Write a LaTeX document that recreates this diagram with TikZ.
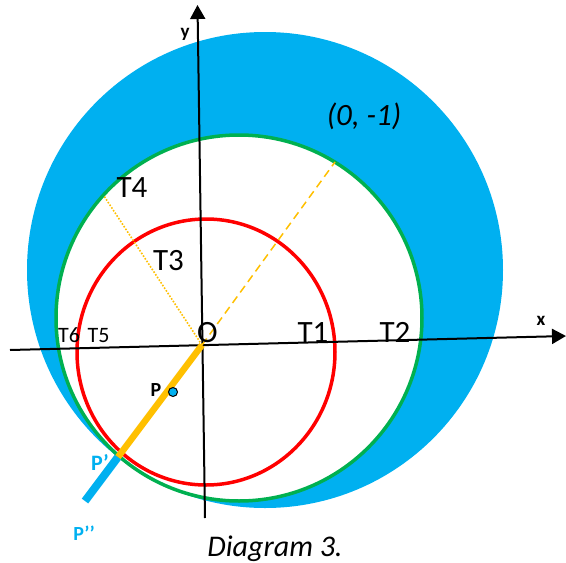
\documentclass[tikz,border=0pt]{standalone}
\usepackage{fontspec}
\setmainfont{Carlito}
\usetikzlibrary{arrows.meta}
\definecolor{skyb}{HTML}{00B0F0}
\definecolor{grn}{HTML}{00B050}
\definecolor{gold}{HTML}{FFC000}
\definecolor{rd}{HTML}{FF0000}
\tikzset{
  lbl/.style={inner sep=0pt, anchor=base, font=\fontsize{31}{34}\selectfont},
  smalllbl/.style={inner sep=0pt, anchor=base, font=\fontsize{22}{24}\selectfont},
  axlbl/.style={inner sep=0pt, anchor=base, font=\fontsize{19}{21}\selectfont\bfseries},
  plbl/.style={inner sep=0pt, anchor=base, font=\fontsize{20}{22}\selectfont\bfseries},
  axis/.style={line width=2pt, -{Triangle[length=14pt,width=15pt]}},
}
\begin{document}
\begin{tikzpicture}[x=1pt,y=-1pt]
\useasboundingbox (0,0) rectangle (566,563);
% regions
\fill[skyb] (265,270) circle[radius=238];
\fill[white] (239,318) circle[radius=183];
\draw[grn, line width=3.5pt] (239,318) circle[radius=183];
\draw[rd, line width=3.5pt] (206,352) ellipse[x radius=129, y radius=133];
% coordinates
\coordinate (O) at (202,345);
\coordinate (xs) at (10,350);
\coordinate (xe) at (566,336);
\coordinate (ys) at (205,518);
\coordinate (ye) at (197.5,5);
\coordinate (D) at (335,162);
\coordinate (T4p) at (104,196);
\coordinate (Pp) at (118,457);
\coordinate (Ppp) at (85,501);
% axes
\draw[axis] (xs) -- (xe);
\draw[axis] (ys) -- (ye);
% guide lines
\draw[gold, line width=1.5pt, dash pattern=on 8pt off 5pt] (O) -- (D);
\draw[gold, line width=1.6pt, dash pattern=on 1.6pt off 1.6pt] (O) -- (T4p);
\draw[skyb, line width=8pt] (Pp) -- (Ppp);
\draw[gold, line width=6.5pt] (O) -- (Pp);
\node[circle, fill=skyb, draw=black, line width=1pt, minimum size=9pt, inner sep=0pt] (Pdot) at (173,392) {};
% labels
\node[lbl] (lT1) at (313,342) {T1};
\node[lbl] (lT2) at (395,342) {T2};
\node[lbl] (lT3) at (168.5,270) {T3};
\node[lbl] (lT4) at (132,197) {T4};
\node[smalllbl] (lT5) at (98.5,342) {T5};
\node[smalllbl] (lT6) at (69,342) {T6};
\node[lbl] (lO) at (207.5,342) {O};
\node[lbl, font=\fontsize{31}{34}\selectfont\itshape] (lpt) at (364,125) {(0, -1)};
\node[lbl, font=\fontsize{30}{33}\selectfont\itshape] (cap) at (275,556) {Diagram 3.};
\node[axlbl] (lx) at (541,325) {x};
\node[axlbl] (ly) at (185,37) {y};
\node[plbl] (lP) at (156,396) {P};
\node[plbl, text=skyb, font=\fontsize{22}{24}\selectfont\bfseries] (lPp) at (100,470) {P’};
\node[plbl, text=skyb] (lPpp) at (84,540) {P’’};
\end{tikzpicture}
\end{document}
